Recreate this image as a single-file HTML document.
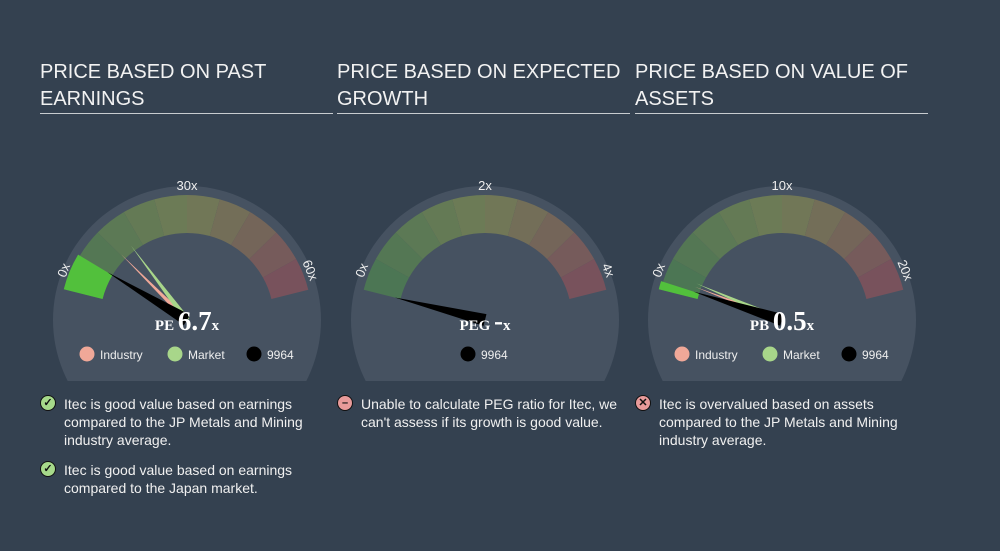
<!DOCTYPE html>
<html><head><meta charset="utf-8"><style>
body{margin:0;width:1000px;height:551px;background:#344150;overflow:hidden;font-family:"Liberation Sans",sans-serif;position:relative}
.t{position:absolute;top:59px;width:293px;color:#f2f2f2;font-size:20px;line-height:27px;border-bottom:1px solid #c8ccd0;padding-bottom:0px}
.n{position:absolute;color:#f0f0f0;font-size:14px;line-height:18px}
.ic{position:absolute;width:14px;height:14px;border-radius:50%;border:1.5px solid #111;font-size:11px;line-height:14px;text-align:center;color:#111;font-weight:bold}
</style></head><body>
<div class="t" style="left:40px">PRICE BASED ON PAST EARNINGS</div>
<div class="t" style="left:337px">PRICE BASED ON EXPECTED GROWTH</div>
<div class="t" style="left:635px">PRICE BASED ON VALUE OF ASSETS</div>
<svg id="g" width="1000" height="551" style="position:absolute;left:0;top:0"></svg>
<div class="ic" style="left:40px;top:395px;background:#a6d98a">✓</div>
<div class="n" style="left:64px;top:395px;width:260px">Itec is good value based on earnings compared to the JP Metals and Mining industry average.</div>
<div class="ic" style="left:40px;top:461px;background:#a6d98a">✓</div>
<div class="n" style="left:64px;top:461px;width:260px">Itec is good value based on earnings compared to the Japan market.</div>
<div class="ic" style="left:337px;top:395px;background:#e89a9a">–</div>
<div class="n" style="left:361px;top:395px;width:260px">Unable to calculate PEG ratio for Itec, we can't assess if its growth is good value.</div>
<div class="ic" style="left:635px;top:395px;background:#e89a9a">✕</div>
<div class="n" style="left:659px;top:395px;width:260px">Itec is overvalued based on assets compared to the JP Metals and Mining industry average.</div>
<script>
const gaugeNames=["pe","peg","pb"];
const gaugeMax=[60,4,20];
const midLabels=["30x","2x","10x"];
const maxLabels=["60x","4x","20x"];
const metricLabels=["PE","PEG","PB"];
const valueLabels=["6.7","-","0.5"];
const companyValues=[6.7,0,0.5];
const industryValues=[12.2,null,0.9];
const marketValues=[15.4,null,1.2];
const centers=[187,485,782];
const cy=320,A0=166,A1=14;
const svg=document.getElementById('g');
const NS='http://www.w3.org/2000/svg';
function mk(t,a,p){const e=document.createElementNS(NS,t);for(const k in a)e.setAttribute(k,a[k]);(p||svg).appendChild(e);return e;}
function ang(v,m){return (A0-(A0-A1)*Math.min(v/m,1))*Math.PI/180;}
function pt(cx,r,a){return [cx+r*Math.cos(a),cy-r*Math.sin(a)];}
function seg(cx,r1,r2,a,b){const p1=pt(cx,r2,a),p2=pt(cx,r2,b),p3=pt(cx,r1,b),p4=pt(cx,r1,a);
return `M${p1}A${r2},${r2} 0 0 1 ${p2}L${p3}A${r1},${r1} 0 0 0 ${p4}Z`;}
function mix(c1,c2,t){return 'rgb('+c1.map((v,i)=>Math.round(v+(c2[i]-v)*t)).join(',')+')';}
function needle(cx,v,m,r,col,w,name){const a=ang(v,m);const tip=pt(cx,r,a);const p=a+Math.PI/2;
const b1=[cx+w*Math.cos(p),cy-w*Math.sin(p)],b2=[cx-w*Math.cos(p),cy+w*Math.sin(p)];
const e=mk('path',{d:`M${tip}L${b1}L${b2}Z`,fill:col});

}
const defs=mk('defs',{});
const cp=mk('clipPath',{id:'c'},defs);mk('rect',{x:0,y:0,width:1000,height:381},cp);
gaugeNames.forEach((nm,i)=>{
 const cx=centers[i],m=gaugeMax[i];
 const grp=mk('g',{'clip-path':'url(#c)'});
 const d=mk('circle',{cx:cx,cy:cy,r:134,fill:'#465261'},grp);
 
 
 for(let k=0;k<10;k++){
  const a=(A0-(A0-A1)*k/10)*Math.PI/180,b=(A0-(A0-A1)*(k+1)/10)*Math.PI/180;
  const t=k/9;
  const col=t<0.5?mix([76,118,84],[112,124,86],t*2):mix([112,124,86],[120,82,92],(t-0.5)*2);
  const s=mk('path',{d:seg(cx,87,125,a,b),fill:col});
  
  
 }
 if(companyValues[i]>0){
  const f=mk('path',{d:seg(cx,87,127,ang(0,m),ang(companyValues[i],m)),fill:'#52c03c'});
  
  
 }
 const la=158*Math.PI/180,lb=22*Math.PI/180;
 const l0=pt(cx,132,la),l1=pt(cx,132,lb);
 const t0=mk('text',{x:l0[0],y:l0[1],fill:'#eee','font-size':13,'text-anchor':'middle','dominant-baseline':'middle',transform:`rotate(-68 ${l0[0]} ${l0[1]})`});t0.textContent='0x';
 
 const t1=mk('text',{x:l1[0],y:l1[1],fill:'#eee','font-size':13,'text-anchor':'middle','dominant-baseline':'middle',transform:`rotate(68 ${l1[0]} ${l1[1]})`});t1.textContent=maxLabels[i];
 
 const tm=mk('text',{x:cx,y:190,fill:'#eee','font-size':13,'text-anchor':'middle'});tm.textContent=midLabels[i];
 
 if(industryValues[i]!=null)needle(cx,industryValues[i],m,93,'#f0a898',2.5,nm+'-industry-needle');
 if(marketValues[i]!=null)needle(cx,marketValues[i],m,93,'#a8d68a',3,nm+'-market-needle');
 needle(cx,companyValues[i],m,93,'#000',6,nm+'-company-needle');
 const vt=mk('text',{x:cx,y:330,fill:'#fff','text-anchor':'middle','font-family':'Liberation Serif, serif','font-weight':'bold'});
 
 const s1=mk('tspan',{'font-size':15},vt);s1.textContent=metricLabels[i]+' ';
 const s2=mk('tspan',{'font-size':27},vt);s2.textContent=valueLabels[i];
 const s3=mk('tspan',{'font-size':15},vt);s3.textContent='x';
 const items=i===1?[['9964','#000']]:[['Industry','#f0a898'],['Market','#a8d68a'],['9964','#000']];
 const xs=i===1?[cx-17]:[cx-100,cx-12,cx+67];
 items.forEach((it,j)=>{
  const lg=mk('g',{});
  
  
  mk('circle',{cx:xs[j],cy:354,r:7.5,fill:it[1]},lg);
  const tx=mk('text',{x:xs[j]+13,y:359,fill:'#eee','font-size':12},lg);tx.textContent=it[0];
 });
});
</script>
</body></html>
